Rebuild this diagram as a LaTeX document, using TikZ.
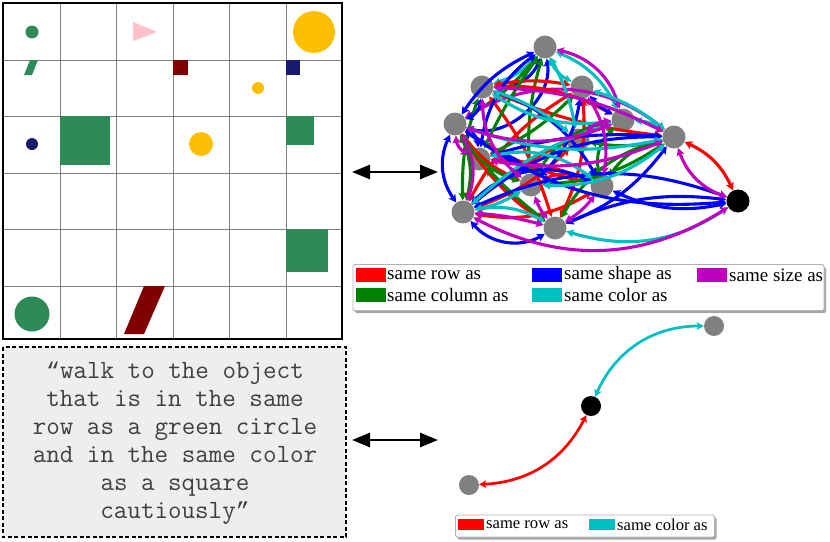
\documentclass[tikz,border=0pt]{standalone}
\usepackage{fontspec}
\setmainfont{Liberation Serif}
\newfontfamily\qmarkfont{Liberation Mono}
\usetikzlibrary{arrows.meta,shadows}
\definecolor{sgreen}{HTML}{2E8B57}
\definecolor{ygold}{HTML}{FFBF00}
\definecolor{pinkc}{HTML}{FFC0CB}
\definecolor{maroonc}{HTML}{800000}
\definecolor{navyc}{HTML}{191970}
\definecolor{cR}{HTML}{FF0000}
\definecolor{cG}{HTML}{008000}
\definecolor{cB}{HTML}{0000FF}
\definecolor{cM}{HTML}{BF00BF}
\definecolor{cC}{HTML}{00BFBF}
\definecolor{grayn}{HTML}{808080}
\definecolor{boxfill}{HTML}{EEEEEE}
\begin{document}
\begin{tikzpicture}[x=1pt,y=-1pt,
  gnode/.style={circle,fill=grayn,minimum size=23pt,inner sep=0pt},
  bnode/.style={circle,fill=black,minimum size=23pt,inner sep=0pt},
  gnodes/.style={circle,fill=grayn,minimum size=20pt,inner sep=0pt},
  bnodes/.style={circle,fill=black,minimum size=20pt,inner sep=0pt},
  ed/.style={line width=3.1pt,line cap=round,{Stealth[length=7.5pt,width=8pt,inset=1.5pt]}-{Stealth[length=7.5pt,width=8pt,inset=1.5pt]}},
  eds/.style={line width=2.7pt,line cap=round,{Stealth[length=7pt,width=7.5pt,inset=1.5pt]}-{Stealth[length=7pt,width=7.5pt,inset=1.5pt]}},
  bigarrow/.style={line width=2.6pt,{Triangle[length=18pt,width=14pt]}-{Triangle[length=18pt,width=14pt]}},
  legbox/.style={draw=gray!60,line width=0.8pt,fill=white,rounded corners=1.5pt,drop shadow={shadow xshift=2pt,shadow yshift=-2.5pt,fill=gray!70,opacity=1}},
  legtxt/.style={anchor=west,inner sep=0pt,font=\fontsize{19}{20}\selectfont},
  legtxts/.style={anchor=west,inner sep=0pt,font=\fontsize{16.6}{18}\selectfont}
]
\useasboundingbox (0,0) rectangle (830,541);
% ---------- grid scene ----------
\foreach \x in {60,116,173,229,286} \draw[grayn,line width=1pt] (\x,3) -- (\x,339);
\foreach \y in {60,116,173,229,286} \draw[grayn,line width=1pt] (3,\y) -- (342,\y);
\fill[sgreen] (32,32) circle (6.5);
\fill[pinkc] (133,22) -- (157,32) -- (133,41) -- cycle;
\fill[ygold] (314,32) circle (21);
\fill[sgreen] (24,75) -- (32,75) -- (38,60) -- (30,60) -- cycle;
\fill[maroonc] (173,60) rectangle (188,75);
\fill[ygold] (258,88) circle (6);
\fill[navyc] (286,60) rectangle (300,75);
\fill[navyc] (32,144) circle (6);
\fill[sgreen] (60,116) rectangle (110,165);
\fill[ygold] (201,144) circle (12);
\fill[sgreen] (286,116) rectangle (314,145);
\fill[sgreen] (286,229) rectangle (328,272);
\fill[sgreen] (32,314) circle (17.5);
\fill[maroonc] (124,334) -- (144,334) -- (165,286) -- (144,286) -- cycle;
\draw[black,line width=1.5pt] (3,3) rectangle (342,339);
% ---------- quote box ----------
\draw[dashed,dash pattern=on 4pt off 2.5pt,line width=1.3pt,fill=boxfill] (3,347) rectangle (346,537);
\node[align=center,inner sep=0pt,text=black!75,font=\ttfamily\fontsize{26.3}{28}\selectfont] (quote) at (175,443)
  {{\qmarkfont\fontsize{23}{28}\selectfont “}walk to the object\\that is in the same\\row as a green circle\\and in the same color\\as a square\\cautiously{\qmarkfont\fontsize{23}{28}\selectfont ”}};
% ---------- big double arrows ----------
\coordinate (t1) at (352,172); \coordinate (t2) at (438,172);
\coordinate (b1) at (352,440); \coordinate (b2) at (438,440);
\draw[bigarrow] (t1) -- (t2);
\draw[bigarrow] (b1) -- (b2);
% ---------- tangled graph ----------
\node[gnode] (A) at (545,47) {};
\node[gnode] (B) at (482,87) {};
\node[gnode] (C) at (582,87) {};
\node[gnode] (D) at (455,124) {};
\node[gnode] (E) at (623,120) {};
\node[gnode] (F) at (674,137) {};
\node[gnode] (G) at (479,159) {};
\node[gnode] (H) at (531,185) {};
\node[gnode] (M) at (578,140) {};
\node[gnode] (I) at (602,186) {};
\node[gnode] (J) at (463,212) {};
\node[gnode] (K) at (555,228) {};
\node[bnode] (L) at (738,201) {};
\foreach \a/\b/\c/\bb in {
 A/D/cB/58, A/B/cB/35, A/B/cC/15, A/D/cG/10, A/D/cB/-15, A/H/cG/-10, A/C/cC/-20, A/E/cC/20, A/E/cM/30,
 D/F/cM/35, B/C/cR/10, B/E/cR/15, D/I/cR/-10, C/J/cR/-15, G/I/cR/10, J/I/cR/-20, B/K/cR/10,
 D/H/cR/-15, C/K/cR/15, E/J/cR/-10, F/L/cR/20, G/K/cR/-10, H/I/cR/25, B/F/cR/-8, D/K/cR/-12, M/J/cR/12,
 D/J/cG/20, D/H/cG/-20, G/K/cG/-5, E/I/cG/-30, F/I/cG/-20, F/H/cG/15, B/J/cG/-10, C/G/cG/10, E/H/cG/-25,
 K/F/cG/22, M/F/cG/-12, A/G/cG/-5,
 D/J/cB/-30, J/I/cB/35, J/K/cB/-40, F/J/cB/-20, F/K/cB/15, L/K/cB/-15, L/D/cB/20, D/G/cB/30, C/E/cB/-10,
 B/I/cB/20, G/H/cB/40, A/G/cB/-22, C/H/cB/18, G/F/cB/10, I/L/cB/-18, J/L/cB/22, B/D/cB/30,
 J/K/cC/20, L/K/cC/25, C/F/cC/10, D/F/cC/-15, B/E/cC/-20, J/H/cC/-10, G/I/cC/25, E/F/cC/15,
 H/F/cC/-20, J/E/cC/12, B/M/cC/10, A/M/cC/8,
 D/J/cM/25, J/K/cM/5, L/J/cM/30, D/E/cM/-20, G/F/cM/-15, C/I/cM/20, B/H/cM/-25, H/K/cM/-10, F/L/cM/-25, I/K/cM/10,
 D/G/cM/-30, E/M/cM/-20, B/F/cM/12}
 \draw[ed,\c] (\a) to[bend left=\bb] (\b);
% ---------- legend top ----------
\node[legbox,minimum width=471pt,minimum height=46pt,inner sep=0pt] (leg1) at (588.5,287.5) {};
\fill[cR] (356,268) rectangle (386,282); \node[legtxt] (l1) at (387,275) {same row as};
\fill[cB] (532,268) rectangle (562,282); \node[legtxt] (l2) at (564,275) {same shape as};
\fill[cM] (697,268) rectangle (727,282); \node[legtxt] (l3) at (729,275) {same size as};
\fill[cG] (356,288) rectangle (386,302); \node[legtxt] (l4) at (387,295) {same column as};
\fill[cC] (532,288) rectangle (562,302); \node[legtxt] (l5) at (564,295) {same color as};
% ---------- simple graph ----------
\node[gnodes] (P) at (714,326) {};
\node[bnodes] (Q) at (591,406) {};
\node[gnodes] (R) at (469,485) {};
\draw[eds,cC] (Q) to[bend left=33] (P);
\draw[eds,cR] (Q) to[bend left=30] (R);
% ---------- legend bottom ----------
\node[legbox,minimum width=259pt,minimum height=22pt,inner sep=0pt] (leg2) at (585,526) {};
\fill[cR] (458,519) rectangle (484,530); \node[legtxts] (m1) at (486,525) {same row as};
\fill[cC] (589,519) rectangle (615,530); \node[legtxts] (m2) at (617,525) {same color as};
\end{tikzpicture}
\end{document}
